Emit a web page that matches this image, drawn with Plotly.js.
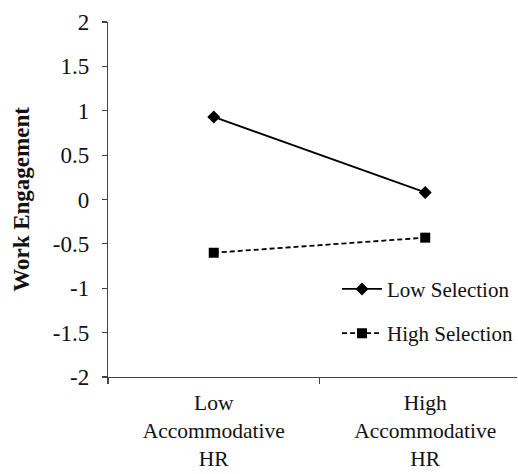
<!DOCTYPE html>
<html>
<head>
<meta charset="utf-8">
<script src="https://cdn.plot.ly/plotly-3.0.1.min.js"></script>
<style>html,body{margin:0;padding:0;background:#fff;}#chart{width:518px;height:474px;}</style>
</head>
<body>
<div id="chart"></div>
<script>
var categories = ["Low<br>Accommodative<br>HR", "High<br>Accommodative<br>HR"];
var categoryPositions = [0, 1];
var lowSelection = [0.93, 0.08];
var highSelection = [-0.60, -0.43];
var seriesNames = ["Low Selection", "High Selection"];
var yTickVals = [-2, -1.5, -1, -0.5, 0, 0.5, 1, 1.5, 2];
var yTickText = ["-2", "-1.5", "-1", "-0.5", "0", "0.5", "1", "1.5", "2"];

var serif = "Liberation Serif";

var traces = [
  {
    x: categoryPositions, y: lowSelection, name: seriesNames[0],
    type: "scatter", mode: "lines+markers", legendgroup: "a",
    line: {color: "#000", width: 1.8},
    marker: {symbol: "diamond", size: 10, color: "#000"}
  },
  {
    x: categoryPositions, y: highSelection, name: seriesNames[1],
    type: "scatter", mode: "lines+markers", legendgroup: "b",
    line: {color: "#000", width: 1.8, dash: "5px,3px"},
    marker: {symbol: "square", size: 10, color: "#000"}
  }
];

var layout = {
  width: 518, height: 474,
  margin: {l: 108, r: 0, t: 22, b: 97},
  paper_bgcolor: "#fff", plot_bgcolor: "#fff",
  font: {family: serif, color: "#111"},
  showlegend: true,
  legend: {
    x: 0.56, y: 0.305, xanchor: "left", yanchor: "top",
    font: {family: serif, size: 21, color: "#111"},
    traceorder: "grouped", tracegroupgap: 14,
    bgcolor: "rgba(0,0,0,0)", itemwidth: 40
  },
  xaxis: {
    range: [-0.5, 1.434], fixedrange: true,
    tickvals: categoryPositions, ticktext: categories,
    ticks: "", showgrid: false, zeroline: false,
    showline: true, linecolor: "#444", linewidth: 1.2,
    ticklabelstandoff: 6,
    tickfont: {family: serif, size: 21.5, color: "#111"},
    minor: {tick0: 0.5, dtick: 1, ticks: "outside", ticklen: 6, tickcolor: "#444", tickwidth: 1.2, showgrid: false}
  },
  yaxis: {
    range: [-2, 2], fixedrange: true,
    tickvals: yTickVals, ticktext: yTickText,
    ticks: "outside", ticklen: 5, tickcolor: "#444", tickwidth: 1.2,
    ticklabelstandoff: 8,
    showgrid: false, zeroline: false,
    showline: true, linecolor: "#444", linewidth: 1.2,
    tickfont: {family: serif, size: 23, color: "#111"},
    title: {text: "<b>Work Engagement</b>", font: {family: serif, size: 23, color: "#111"}, standoff: 16}
  }
};

Plotly.newPlot("chart", traces, layout, {displayModeBar: false, staticPlot: true});
</script>
</body>
</html>
